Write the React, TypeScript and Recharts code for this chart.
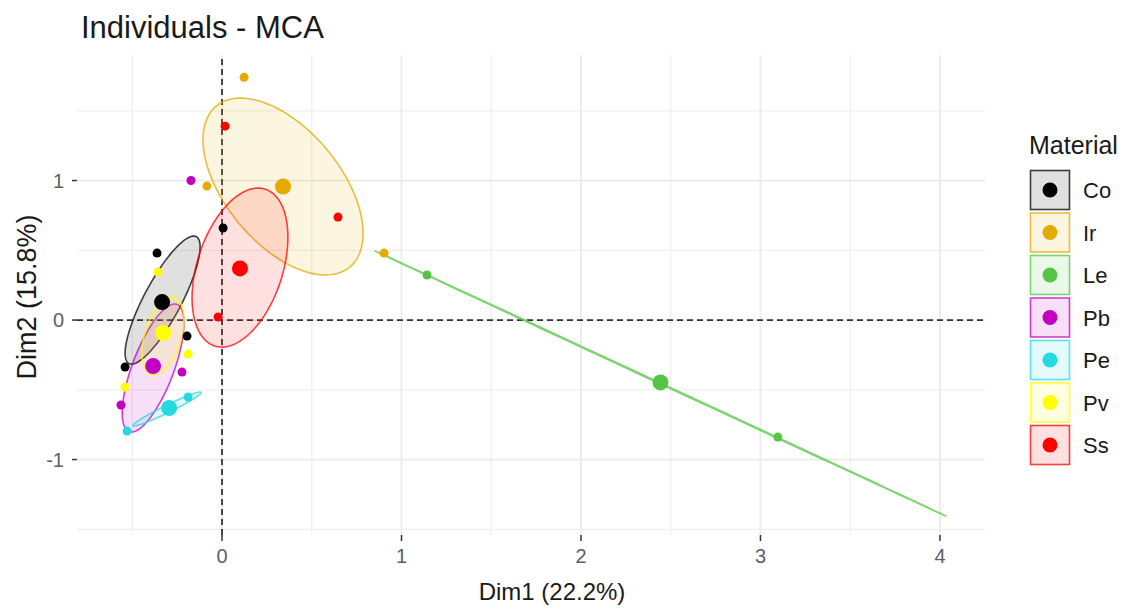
import React from 'react';
import {
  ScatterChart,
  Scatter,
  XAxis,
  YAxis,
  CartesianGrid,
  ReferenceLine,
  Legend,
  Label,
} from 'recharts';

const FONT = '"Liberation Sans", Arial, Helvetica, sans-serif';

const groups = ['Co', 'Ir', 'Le', 'Pb', 'Pe', 'Pv', 'Ss'];
const colors = ['#000000', '#E3AA00', '#56C546', '#C100C1', '#25D9E0', '#FFFF00', '#FF0000'];

// individuals [Dim1, Dim2]
const indCo = [[-0.362, 0.48], [0.006, 0.66], [-0.195, -0.115], [-0.54, -0.337]];
const indIr = [[0.123, 1.74], [-0.084, 0.96], [0.903, 0.48]];
const indLe = [[1.142, 0.323], [3.097, -0.839]];
const indPb = [[-0.173, 1.0], [-0.223, -0.373], [-0.563, -0.609]];
const indPe = [[-0.189, -0.552], [-0.529, -0.796]];
const indPv = [[-0.356, 0.344], [-0.189, -0.244], [-0.54, -0.48]];
const indSs = [[0.017, 1.39], [0.646, 0.738], [-0.022, 0.022]];
const individuals = [indCo, indIr, indLe, indPb, indPe, indPv, indSs];

// group centroids [Dim1, Dim2]
const centroids = [
  [-0.334, 0.129],
  [0.34, 0.957],
  [2.443, -0.447],
  [-0.384, -0.33],
  [-0.295, -0.631],
  [-0.328, -0.093],
  [0.1, 0.37],
];

// confidence ellipses: [centerX, centerY, halfWidth, halfHeight, correlation]
const ellipses = [
  [-0.331, 0.143, 0.209, 0.459, 0.83],
  [0.34, 0.957, 0.446, 0.634, -0.53],
  [2.443, -0.455, 1.59, 0.95, -0.99999],
  [-0.384, -0.344, 0.172, 0.459, 0.7],
  [-0.306, -0.638, 0.19, 0.122, 0.97],
  [-0.329, -0.115, 0.117, 0.28, 0.43],
  [0.1, 0.376, 0.267, 0.57, 0.38],
];

const xTicks = [0, 1, 2, 3, 4];
const yTicks = [-1, 0, 1];
const xMinorGrid = [-0.5, 0.5, 1.5, 2.5, 3.5];
const yMinorGrid = [-1.5, -0.5, 0.5, 1.5];

const xDomain = [-0.808, 4.251];
const yDomain = [-1.541, 1.9];

function ellipsePoints(e: number[]) {
  const [cx, cy, rx, ry, rho] = e;
  const s = Math.sqrt(1 - rho * rho);
  const pts: { x: number; y: number }[] = [];
  const n = 120;
  for (let i = 0; i < n; i++) {
    const t = (2 * Math.PI * i) / n;
    pts.push({ x: cx + rx * Math.cos(t), y: cy + ry * (rho * Math.cos(t) + s * Math.sin(t)) });
  }
  return pts;
}

const toXY = (arr: number[][]) => arr.map(([x, y]) => ({ x, y }));

const makeEllipseLine = (color: string) => (props: any) => {
  const pts = (props.points || []) as { x: number; y: number }[];
  if (!pts.length) return <g />;
  const d = pts.map((p, i) => `${i === 0 ? 'M' : 'L'}${p.x},${p.y}`).join(' ') + ' Z';
  return (
    <path
      d={d}
      fill={color}
      fillOpacity={0.12}
      stroke={color}
      strokeOpacity={0.75}
      strokeWidth={1.6}
      strokeLinejoin="round"
    />
  );
};

const makeDot = (color: string, r: number) => (props: any) => (
  <circle cx={props.cx} cy={props.cy} r={r} fill={color} />
);

const emptyShape = () => <g />;

const LegendContent = () => (
  <svg width={108} height={345} style={{ display: 'block', fontFamily: FONT }}>
    <text x={9} y={26} fontSize={25} fill="#1a1a1a">
      Material
    </text>
    {groups.map((g, i) => {
      const top = 42 + i * 42.5;
      return (
        <g key={g}>
          <rect
            x={10.5}
            y={top + 0.5}
            width={39}
            height={39}
            fill={colors[i]}
            fillOpacity={0.12}
            stroke={colors[i]}
            strokeOpacity={0.75}
            strokeWidth={1.6}
          />
          <circle cx={30} cy={top + 20} r={7.5} fill={colors[i]} />
          <text x={63} y={top + 28} fontSize={22} fill="#1a1a1a">
            {g}
          </text>
        </g>
      );
    })}
  </svg>
);

export default function App() {
  return (
    <div style={{ position: 'absolute', left: 0, top: 0, width: 1128, height: 608, background: '#fff' }}>
      <div
        style={{
          position: 'absolute',
          left: 81,
          top: 12,
          fontSize: 31,
          lineHeight: '31px',
          fontFamily: FONT,
          color: '#1a1a1a',
          whiteSpace: 'nowrap',
        }}
      >
        Individuals - MCA
      </div>
      <ScatterChart
        width={1128}
        height={608}
        margin={{ top: 55, right: 143, bottom: 33, left: 0 }}
        style={{ fontFamily: FONT }}
      >
        <CartesianGrid
          verticalValues={xMinorGrid}
          horizontalValues={yMinorGrid}
          stroke="#f0f0f0"
          strokeWidth={1.3}
        />
        <CartesianGrid
          verticalValues={xTicks}
          horizontalValues={yTicks}
          stroke="#ebebeb"
          strokeWidth={1.8}
        />
        <XAxis
          type="number"
          dataKey="x"
          domain={xDomain}
          ticks={xTicks}
          interval={0}
          allowDataOverflow
          axisLine={false}
          tickLine={{ stroke: '#333', strokeWidth: 1.5 }}
          tickSize={6}
          tickMargin={8}
          tick={{ fontSize: 20, fill: '#5f5f5f' }}
          height={40}
        >
          <Label
            content={() => (
              <text x={552} y={600} textAnchor="middle" fontSize={24} fill="#1a1a1a" fontFamily={FONT}>
                Dim1 (22.2%)
              </text>
            )}
          />
        </XAxis>
        <YAxis
          type="number"
          dataKey="y"
          domain={yDomain}
          ticks={yTicks}
          interval={0}
          allowDataOverflow
          axisLine={false}
          tickLine={{ stroke: '#333', strokeWidth: 1.5 }}
          tickSize={5}
          tickMargin={8}
          tick={{ fontSize: 20, fill: '#5f5f5f' }}
          width={77}
        >
          <Label
            content={() => (
              <text
                x={36}
                y={297}
                textAnchor="middle"
                fontSize={27}
                fill="#1a1a1a"
                fontFamily={FONT}
                transform="rotate(-90, 36, 297)"
              >
                Dim2 (15.8%)
              </text>
            )}
          />
        </YAxis>
        <ReferenceLine x={0} stroke="#333" strokeDasharray="6 4" strokeWidth={1.8} />
        <ReferenceLine y={0} stroke="#333" strokeDasharray="6 4" strokeWidth={1.8} />
        {groups.map((g, i) => (
          <Scatter
            key={'ell-' + g}
            name={g}
            data={ellipsePoints(ellipses[i])}
            line={makeEllipseLine(colors[i])}
            shape={emptyShape}
            fill={colors[i]}
            legendType="none"
            isAnimationActive={false}
          />
        ))}
        {groups.map((g, i) => (
          <Scatter
            key={'ind-' + g}
            name={g}
            data={toXY(individuals[i])}
            shape={makeDot(colors[i], 4.5)}
            fill={colors[i]}
            legendType="none"
            isAnimationActive={false}
          />
        ))}
        {groups.map((g, i) => (
          <Scatter
            key={'cen-' + g}
            name={g}
            data={toXY([centroids[i]])}
            shape={makeDot(colors[i], 8)}
            fill={colors[i]}
            legendType="none"
            isAnimationActive={false}
          />
        ))}
        <Legend
          layout="horizontal"
          align="center"
          verticalAlign="middle"
          content={LegendContent}
          wrapperStyle={{ left: 1020, top: 128, width: 108, height: 345 }}
        />
      </ScatterChart>
    </div>
  );
}
